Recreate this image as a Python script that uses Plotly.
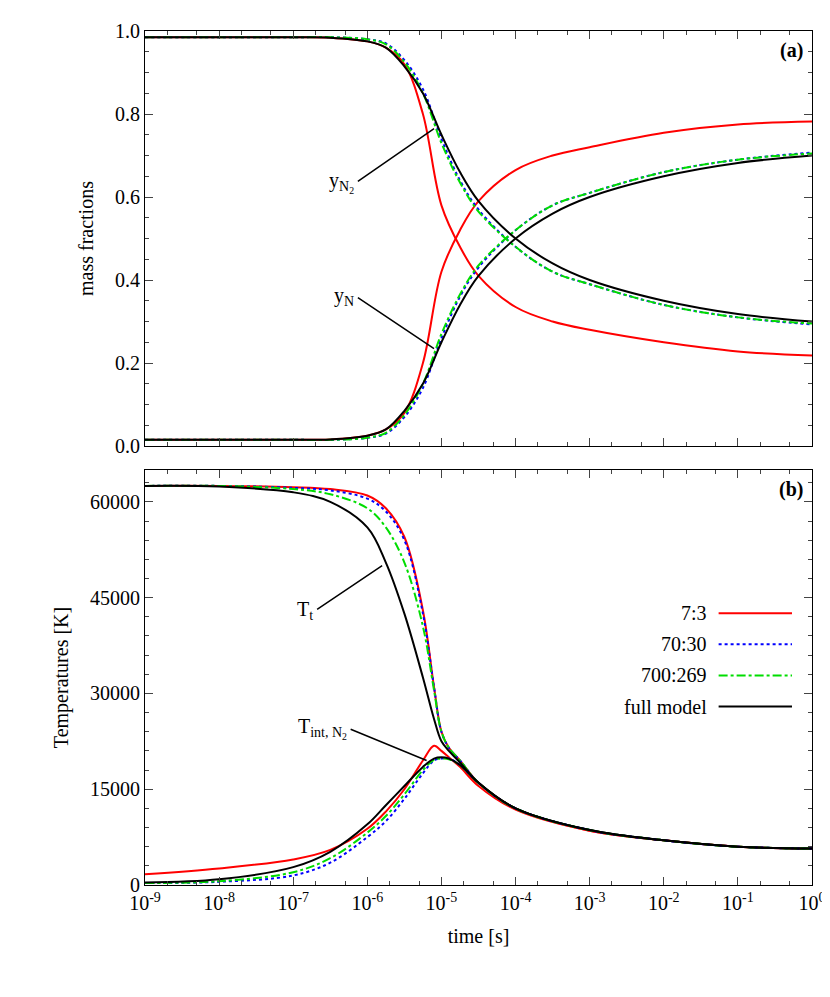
import plotly.graph_objects as go
from plotly.subplots import make_subplots

# log10(time) sample points
lt_a = [-9, -8, -7, -6.5, -6, -5.75, -5.5, -5.25, -5, -4.75, -4.5, -4, -3.5, -3, -2, -1, 0]
yN2_red = [0.985, 0.985, 0.985, 0.984, 0.975, 0.96, 0.92, 0.80, 0.58, 0.48, 0.41, 0.335, 0.30, 0.28, 0.25, 0.228, 0.218]
yN_red = [0.015, 0.015, 0.015, 0.016, 0.025, 0.04, 0.08, 0.2, 0.42, 0.52, 0.59, 0.665, 0.70, 0.72, 0.755, 0.775, 0.782]
yN2_blue = [0.985, 0.985, 0.985, 0.985, 0.98, 0.97, 0.93, 0.86, 0.74, 0.64, 0.57, 0.48, 0.42, 0.39, 0.34, 0.31, 0.293]
yN_blue = [0.015, 0.015, 0.015, 0.015, 0.02, 0.03, 0.07, 0.14, 0.26, 0.36, 0.43, 0.52, 0.58, 0.61, 0.66, 0.69, 0.707]
yN2_green = [0.985, 0.985, 0.985, 0.985, 0.98, 0.968, 0.925, 0.85, 0.73, 0.635, 0.565, 0.48, 0.42, 0.39, 0.34, 0.31, 0.295]
yN_green = [0.015, 0.015, 0.015, 0.015, 0.02, 0.032, 0.075, 0.15, 0.27, 0.365, 0.435, 0.52, 0.58, 0.61, 0.66, 0.69, 0.705]
yN2_black = [0.985, 0.985, 0.985, 0.984, 0.975, 0.96, 0.915, 0.85, 0.75, 0.66, 0.59, 0.50, 0.44, 0.40, 0.35, 0.318, 0.30]
yN_black = [0.015, 0.015, 0.015, 0.016, 0.025, 0.04, 0.085, 0.15, 0.25, 0.34, 0.41, 0.50, 0.56, 0.60, 0.65, 0.682, 0.70]

lt_b = [-9, -8, -7, -6.5, -6, -5.75, -5.5, -5.25, -5.1, -5, -4.9, -4.75, -4.5, -4, -3, -2, -1, 0]
Tt_red = [62500, 62500, 62300, 62000, 61000, 59000, 54500, 43000, 31000, 24000, 21500, 19500, 16000, 12000, 8500, 7000, 6000, 5700]
Tt_blue = [62500, 62500, 62200, 61800, 60500, 58500, 54000, 42500, 31000, 24000, 21500, 19500, 16000, 12000, 8600, 7000, 6000, 5700]
Tt_green = [62500, 62500, 62000, 61200, 59000, 56000, 50500, 40500, 30500, 24000, 21500, 19500, 16000, 12000, 8600, 7000, 6000, 5700]
Tt_black = [62500, 62400, 61500, 60000, 56000, 50500, 42500, 32500, 26000, 22500, 21000, 19200, 16000, 12000, 8600, 7000, 6000, 5700]
Ti_red = [1700, 2600, 4000, 5500, 8800, 11500, 15000, 19500, 21800, 21000, 20000, 18500, 15500, 11800, 8500, 7000, 6000, 5700]
Ti_blue = [300, 500, 1500, 3500, 7500, 10000, 13500, 17500, 19500, 19800, 19800, 18800, 16000, 12000, 8600, 7000, 6000, 5700]
Ti_green = [300, 600, 2000, 4200, 8200, 10800, 14200, 18000, 19600, 19800, 19700, 18800, 16000, 12000, 8600, 7000, 6000, 5700]
Ti_black = [400, 900, 2800, 5200, 9500, 12500, 15500, 18500, 19800, 20000, 19800, 18800, 16000, 12000, 8600, 7000, 6000, 5700]

x_tickvals = [1e-9, 1e-8, 1e-7, 1e-6, 1e-5, 1e-4, 1e-3, 1e-2, 1e-1, 1]
x_ticktext = ["10<sup>-9</sup>", "10<sup>-8</sup>", "10<sup>-7</sup>", "10<sup>-6</sup>", "10<sup>-5</sup>",
              "10<sup>-4</sup>", "10<sup>-3</sup>", "10<sup>-2</sup>", "10<sup>-1</sup>", "10<sup>0</sup>"]

names = ["7:3", "70:30", "700:269", "full model"]
colors = ["#ff0000", "#0000ff", "#00dd00", "#000000"]
dashes = ["solid", "dot", "dashdot", "solid"]

xa = [10 ** v for v in lt_a]
xb = [10 ** v for v in lt_b]

fig = make_subplots(rows=2, cols=1, shared_xaxes=True, vertical_spacing=0.028)

for i, (n2, n) in enumerate([(yN2_red, yN_red), (yN2_blue, yN_blue), (yN2_green, yN_green), (yN2_black, yN_black)]):
    for ys in (n2, n):
        fig.add_trace(go.Scatter(x=xa, y=ys, mode="lines", showlegend=False,
                                 line=dict(color=colors[i], dash=dashes[i], width=2, shape="spline")),
                      row=1, col=1)
for i, (tt, ti) in enumerate([(Tt_red, Ti_red), (Tt_blue, Ti_blue), (Tt_green, Ti_green), (Tt_black, Ti_black)]):
    for ys in (tt, ti):
        fig.add_trace(go.Scatter(x=xb, y=ys, mode="lines", showlegend=False,
                                 line=dict(color=colors[i], dash=dashes[i], width=2, shape="spline")),
                      row=2, col=1)

font = dict(family="Liberation Serif, Times New Roman, serif", size=20, color="black")
axis_style = dict(showline=True, linecolor="black", linewidth=1, mirror="ticks", ticks="inside",
                  showgrid=False, zeroline=False, tickfont=font)

fig.update_xaxes(type="log", range=[-9, 0], tickvals=x_tickvals, ticktext=x_ticktext,
                 minor=dict(ticks="inside", ticklen=4), ticklen=8, **axis_style)
fig.update_xaxes(title=dict(text="time [s]", font=font), row=2, col=1)
fig.update_yaxes(range=[0, 1], dtick=0.2, tickformat=".1f", ticklen=8, minor=dict(ticks="inside", dtick=0.05, ticklen=4),
                 title=dict(text="mass fractions", font=font), row=1, col=1, **axis_style)
fig.update_yaxes(range=[0, 65000], dtick=15000, tickformat="d", ticklen=8, minor=dict(ticks="inside", dtick=3000, ticklen=4),
                 title=dict(text="Temperatures [K]", font=font), row=2, col=1, **axis_style)

# panel labels
fig.add_annotation(text="<b>(a)</b>", x=0.99, y=0.985, xref="x domain", yref="y domain", xanchor="right", yanchor="top", showarrow=False, font=font)
fig.add_annotation(text="<b>(b)</b>", x=0.99, y=0.985, xref="x2 domain", yref="y2 domain", xanchor="right", yanchor="top", showarrow=False, font=font)

# curve labels with leader lines
def label(text, x, y, ax, ay, xr, yr):
    fig.add_annotation(text=text, x=x, y=y, ax=ax, ay=ay, xref=xr, yref=yr, axref=xr, ayref=yr,
                       showarrow=True, arrowhead=0, arrowwidth=1.5, arrowcolor="black", font=font,
                       xanchor="right", standoff=0, startstandoff=2)

label("y<sub>N<sub>2</sub></sub>", -5.1, 0.765, -6.15, 0.635, "x", "y")
label("y<sub>N</sub>", -5.1, 0.235, -6.15, 0.36, "x", "y")
label("T<sub>t</sub>", -5.8, 50000, -6.7, 43000, "x2", "y2")
label("T<sub>int, N<sub>2</sub></sub>", -5.2, 19500, -6.25, 24500, "x2", "y2")

# manual legend (text left, line sample right)
for i, n in enumerate(names):
    yy = 0.655 - i * 0.075
    fig.add_annotation(text=n, x=0.845, y=yy, xref="x2 domain", yref="y2 domain", xanchor="right",
                       yanchor="middle", showarrow=False, font=font)
    fig.add_shape(type="line", x0=0.86, x1=0.97, y0=yy, y1=yy, xref="x2 domain", yref="y2 domain",
                  line=dict(color=colors[i], dash=dashes[i], width=2))

fig.update_layout(width=830, height=997, plot_bgcolor="white", paper_bgcolor="white",
                  margin=dict(l=137, r=25, t=20, b=120), font=font)

fig.write_html("out.html")
